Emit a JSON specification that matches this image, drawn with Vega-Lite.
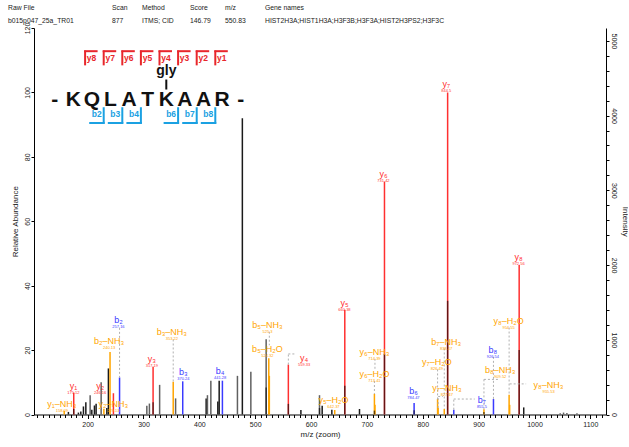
{
 "$schema": "https://vega.github.io/schema/vega-lite/v6.json",
 "width": 572,
 "height": 386.5,
 "padding": {"left": 8, "top": 5, "right": 0, "bottom": 4},
 "config": {
  "view": {"stroke": null},
  "font": "Liberation Sans",
  "axis": {"grid": false, "domainColor": "#000", "tickColor": "#000", "labelColor": "#222", "titleColor": "#222", "labelFont": "Liberation Sans", "titleFont": "Liberation Sans", "titleFontWeight": "normal"}
 },
 "datasets": {
  "peaks": [
   {"mz":158.09,"rel":1.2,"kind":"loss"},
   {"mz":165.6,"rel":0.8,"kind":"black"},
   {"mz":175.12,"rel":6.8,"kind":"y"},
   {"mz":183.5,"rel":0.6,"kind":"black"},
   {"mz":187.8,"rel":0.9,"kind":"black"},
   {"mz":192.5,"rel":2.5,"kind":"black"},
   {"mz":196.8,"rel":3.8,"kind":"black"},
   {"mz":204.5,"rel":6.0,"kind":"gray"},
   {"mz":207.5,"rel":1.5,"kind":"black"},
   {"mz":212.2,"rel":2.8,"kind":"black"},
   {"mz":215.2,"rel":3.3,"kind":"black"},
   {"mz":224.2,"rel":10.0,"kind":"gray"},
   {"mz":229.13,"rel":1.8,"kind":"loss"},
   {"mz":234.4,"rel":2.0,"kind":"black"},
   {"mz":237.2,"rel":14.3,"kind":"black"},
   {"mz":240.13,"rel":19.4,"kind":"loss"},
   {"mz":246.16,"rel":6.6,"kind":"y"},
   {"mz":257.16,"rel":11.5,"kind":"b"},
   {"mz":306.0,"rel":2.7,"kind":"gray"},
   {"mz":310.6,"rel":3.4,"kind":"gray"},
   {"mz":317.19,"rel":14.8,"kind":"y"},
   {"mz":328.9,"rel":9.2,"kind":"gray"},
   {"mz":353.22,"rel":10.2,"kind":"loss"},
   {"mz":357.5,"rel":5.0,"kind":"gray"},
   {"mz":370.24,"rel":10.3,"kind":"b"},
   {"mz":412.2,"rel":5.0,"kind":"black"},
   {"mz":414.5,"rel":6.0,"kind":"gray"},
   {"mz":420.6,"rel":10.5,"kind":"gray"},
   {"mz":433.1,"rel":4.0,"kind":"black"},
   {"mz":435.5,"rel":10.5,"kind":"black"},
   {"mz":441.28,"rel":10.5,"kind":"b"},
   {"mz":468.2,"rel":12.0,"kind":"gray"},
   {"mz":477.0,"rel":92.0,"kind":"black"},
   {"mz":492.2,"rel":13.3,"kind":"gray"},
   {"mz":519.6,"rel":23.4,"kind":"gray"},
   {"mz":524.32,"rel":17.5,"kind":"loss"},
   {"mz":525.3,"rel":12.0,"kind":"loss"},
   {"mz":559.33,"rel":15.5,"kind":"y"},
   {"mz":581.8,"rel":1.4,"kind":"black"},
   {"mz":615.1,"rel":6.0,"kind":"gray"},
   {"mz":619.9,"rel":2.7,"kind":"black"},
   {"mz":637.2,"rel":1.5,"kind":"black"},
   {"mz":642.37,"rel":1.4,"kind":"loss"},
   {"mz":660.38,"rel":32.5,"kind":"y"},
   {"mz":686.7,"rel":1.7,"kind":"black"},
   {"mz":713.41,"rel":6.4,"kind":"loss"},
   {"mz":714.39,"rel":3.0,"kind":"loss"},
   {"mz":731.42,"rel":72.3,"kind":"y"},
   {"mz":784.47,"rel":3.6,"kind":"b"},
   {"mz":826.49,"rel":4.8,"kind":"loss"},
   {"mz":827.47,"rel":2.0,"kind":"loss"},
   {"mz":838.47,"rel":1.7,"kind":"loss"},
   {"mz":844.5,"rel":100,"kind":"y"},
   {"mz":855.5,"rel":1.5,"kind":"b"},
   {"mz":909.51,"rel":1.6,"kind":"loss"},
   {"mz":926.54,"rel":4.8,"kind":"b"},
   {"mz":954.55,"rel":6.1,"kind":"loss"},
   {"mz":955.53,"rel":3.0,"kind":"loss"},
   {"mz":972.56,"rel":46.4,"kind":"y"},
   {"mz":980.7,"rel":2.2,"kind":"black"},
   {"mz":1046,"rel":0.4,"kind":"gray"},
   {"mz":1052,"rel":0.6,"kind":"gray"},
   {"mz":1058,"rel":0.5,"kind":"gray"},
   {"mz":1076,"rel":0.4,"kind":"gray"}
  ],
  "overlays": [
   {"mz":175.12,"rel":1.7},{"mz":317.19,"rel":3.8},{"mz":519.6,"rel":8.4},{"mz":559.33,"rel":3.3},
   {"mz":615.1,"rel":2.0},{"mz":660.38,"rel":8.9},{"mz":713.41,"rel":1.2},{"mz":731.42,"rel":18.8},
   {"mz":784.47,"rel":1.3},{"mz":844.5,"rel":35.3},{"mz":909.51,"rel":0.8},{"mz":972.56,"rel":20.0}
  ],
  "labels": [
   {"name":"y₁–NH₃","mzt":"158.09","kind":"loss","lx":153.8,"ly":2.7},
   {"name":"y₁","mzt":"175.12","kind":"y","lx":174.6,"ly":8.3},
   {"name":"y₂","mzt":"246.16","kind":"y","lx":222.4,"ly":8.3},
   {"name":"y₂–NH₃","mzt":"229.13","kind":"loss","lx":246.2,"ly":2.7},
   {"name":"b₂–NH₃","mzt":"240.13","kind":"loss","lx":238.5,"ly":22.4},
   {"name":"b₂","mzt":"257.16","kind":"b","lx":255.2,"ly":28.8},
   {"name":"y₃","mzt":"317.19","kind":"y","lx":315.0,"ly":16.7},
   {"name":"b₃–NH₃","mzt":"353.22","kind":"loss","lx":350.8,"ly":25.0},
   {"name":"b₃","mzt":"370.24","kind":"b","lx":371.5,"ly":12.6},
   {"name":"b₄","mzt":"441.28","kind":"b","lx":437.2,"ly":13.1},
   {"name":"b₅–NH₃","mzt":"525.3","kind":"loss","lx":521.9,"ly":27.4},
   {"name":"b₅–H₂O","mzt":"524.32","kind":"loss","lx":521.9,"ly":19.8},
   {"name":"y₄","mzt":"559.33","kind":"y","lx":587.7,"ly":17.2},
   {"name":"y₅–H₂O","mzt":"642.37","kind":"loss","lx":640.1,"ly":4.0},
   {"name":"y₅","mzt":"660.38","kind":"y","lx":659.8,"ly":34.3},
   {"name":"y₆–NH₃","mzt":"714.39","kind":"loss","lx":713.5,"ly":19.0},
   {"name":"y₆–H₂O","mzt":"713.41","kind":"loss","lx":713.5,"ly":12.0},
   {"name":"y₆","mzt":"731.42","kind":"y","lx":729.6,"ly":74.2},
   {"name":"b₆","mzt":"784.47","kind":"b","lx":783.3,"ly":6.9},
   {"name":"y₇–H₂O","mzt":"826.49","kind":"loss","lx":825.2,"ly":15.7},
   {"name":"y₇–NH₃","mzt":"827.47","kind":"loss","lx":843.2,"ly":7.8},
   {"name":"b₇–NH₃","mzt":"838.47","kind":"loss","lx":841.9,"ly":22.1},
   {"name":"y₇","mzt":"844.5","kind":"y","lx":841.9,"ly":102.3},
   {"name":"b₇","mzt":"855.5","kind":"b","lx":905.8,"ly":4.0},
   {"name":"b₈–NH₃","mzt":"909.52","kind":"loss","lx":938.6,"ly":13.3},
   {"name":"b₈","mzt":"926.54","kind":"b","lx":925.6,"ly":19.5},
   {"name":"y₈–H₂O","mzt":"954.55","kind":"loss","lx":953.5,"ly":28.6},
   {"name":"y₈–NH₃","mzt":"955.53","kind":"loss","lx":1025.1,"ly":8.8},
   {"name":"y₈","mzt":"972.56","kind":"y","lx":971.4,"ly":48.5}
  ],
  "leaders": [
   {"mz":257.16,"rel":26.9,"mz2":257.16,"rel2":11.5},
   {"mz":353.22,"rel":23.3,"mz2":353.22,"rel2":10.2},
   {"mz":525.3,"rel":25.7,"mz2":525.3,"rel2":21.5},
   {"mz":559.33,"rel":15.5,"mz2":559.33,"rel2":18.8},
   {"mz":559.33,"rel":18.8,"mz2":572,"rel2":18.8},
   {"mz":714.39,"rel":17.3,"mz2":714.39,"rel2":13.6},
   {"mz":713.41,"rel":10.4,"mz2":713.41,"rel2":6.4},
   {"mz":826.49,"rel":14.0,"mz2":826.49,"rel2":4.8},
   {"mz":827.47,"rel":2.0,"mz2":827.47,"rel2":5.6},
   {"mz":827.47,"rel":5.6,"mz2":836,"rel2":5.6},
   {"mz":838.47,"rel":20.5,"mz2":838.47,"rel2":1.7},
   {"mz":855.5,"rel":1.5,"mz2":855.5,"rel2":4.8},
   {"mz":855.5,"rel":4.8,"mz2":893,"rel2":4.8},
   {"mz":909.51,"rel":1.6,"mz2":909.51,"rel2":10.9},
   {"mz":909.51,"rel":10.9,"mz2":938,"rel2":10.9},
   {"mz":926.54,"rel":17.9,"mz2":926.54,"rel2":4.8},
   {"mz":954.55,"rel":27.0,"mz2":954.55,"rel2":6.1},
   {"mz":955.53,"rel":9.5,"mz2":985,"rel2":9.5}
  ],
  "residues": [
   {"pos":0,"aa":"-"},{"pos":1,"aa":"K"},{"pos":2,"aa":"Q"},{"pos":3,"aa":"L"},{"pos":4,"aa":"A"},{"pos":5,"aa":"T"},
   {"pos":6,"aa":"K"},{"pos":7,"aa":"A"},{"pos":8,"aa":"A"},{"pos":9,"aa":"R"},{"pos":10,"aa":"-"}
  ],
  "mods": [{"pos":6,"mod":"gly"}],
  "ybr": [
   {"ion":"y8","site":1.5},{"ion":"y7","site":2.5},{"ion":"y6","site":3.5},{"ion":"y5","site":4.5},
   {"ion":"y4","site":5.5},{"ion":"y3","site":6.5},{"ion":"y2","site":7.5},{"ion":"y1","site":8.5}
  ],
  "bbr": [
   {"ion":"b2","site":2.5},{"ion":"b3","site":3.5},{"ion":"b4","site":4.5},
   {"ion":"b6","site":6.5},{"ion":"b7","site":7.5},{"ion":"b8","site":8.5}
  ],
  "header": [
   {"column":1,"name":"Raw File","value":"b015p047_25a_TR01"},
   {"column":2,"name":"Scan","value":"877"},
   {"column":3,"name":"Method","value":"ITMS; CID"},
   {"column":4,"name":"Score","value":"146.79"},
   {"column":5,"name":"m/z","value":"550.83"},
   {"column":6,"name":"Gene names","value":"HIST2H3A;HIST1H3A;H3F3B;H3F3A;HIST2H3PS2;H3F3C"}
  ]
 },
 "resolve": {"scale": {"x": "independent", "y": "independent"}},
 "layer": [
  {
   "layer": [
    {
     "data": {"name": "peaks"},
     "mark": {"type": "rule", "strokeWidth": 1.5},
     "encoding": {
      "x": {"field": "mz", "type": "quantitative",
        "scale": {"domain": [104, 1128], "nice": false, "zero": false},
        "axis": {"values": [200,300,400,500,600,700,800,900,1000,1100],
          "format": "d", "tickSize": 4, "labelFontSize": 7, "labelPadding": 2, "labelOverlap": false, "labelFlush": false,
          "title": "m/z (zoom)", "titleFontSize": 8, "titlePadding": 3}},
      "y": {"field": "rel", "type": "quantitative",
        "scale": {"domain": [0, 120], "nice": false},
        "axis": {"values": [0,10,20,30,40,50,60,70,80,90,100,110,120],
          "labelExpr": "datum.value % 20 === 0 ? datum.label : ''",
          "labelAngle": -90, "tickSize": 3, "labelFontSize": 7, "labelPadding": 1, "labelOverlap": false, "labelFlush": false,
          "title": "Relative Abundance", "titleFontSize": 8, "titlePadding": 4}},
      "y2": {"datum": 0},
      "color": {"field": "kind", "type": "nominal",
        "scale": {"domain": ["y","b","loss","gray","black"], "range": ["#ff3030","#3a3aff","#ffa500","#606060","#1a1a1a"]},
        "legend": null}
     }
    },
    {
     "data": {"name": "overlays"},
     "mark": {"type": "rule", "strokeWidth": 1.5, "color": "#000", "opacity": 0.6},
     "encoding": {
      "x": {"field": "mz", "type": "quantitative"},
      "y": {"field": "rel", "type": "quantitative"},
      "y2": {"datum": 0}
     }
    },
    {
     "data": {"name": "leaders"},
     "mark": {"type": "rule", "strokeWidth": 1, "color": "#b0b0b0", "strokeDash": [2, 2]},
     "encoding": {
      "x": {"field": "mz", "type": "quantitative"},
      "x2": {"field": "mz2"},
      "y": {"field": "rel", "type": "quantitative"},
      "y2": {"field": "rel2"}
     }
    },
    {
     "data": {"name": "labels"},
     "mark": {"type": "text", "fontSize": 9, "align": "center", "baseline": "middle", "dy": -1.5},
     "encoding": {
      "x": {"field": "lx", "type": "quantitative"},
      "y": {"field": "ly", "type": "quantitative"},
      "text": {"field": "name"},
      "color": {"field": "kind", "type": "nominal", "legend": null}
     }
    },
    {
     "data": {"name": "labels"},
     "mark": {"type": "text", "fontSize": 4, "align": "center", "baseline": "middle", "dy": 5.5},
     "encoding": {
      "x": {"field": "lx", "type": "quantitative"},
      "y": {"field": "ly", "type": "quantitative"},
      "text": {"field": "mzt"},
      "color": {"field": "kind", "type": "nominal", "legend": null}
     }
    }
   ]
  },
  {
   "data": {"values": [{}]},
   "mark": {"type": "rule", "opacity": 0},
   "encoding": {
    "x": {"datum": 104, "type": "quantitative",
      "scale": {"domain": [104, 1128], "nice": false, "zero": false},
      "axis": {"orient": "bottom", "values": [110,120,130,140,150,160,170,180,190,210,220,230,240,250,260,270,280,290,310,320,330,340,350,360,370,380,390,410,420,430,440,450,460,470,480,490,510,520,530,540,550,560,570,580,590,610,620,630,640,650,660,670,680,690,710,720,730,740,750,760,770,780,790,810,820,830,840,850,860,870,880,890,910,920,930,940,950,960,970,980,990,1010,1020,1030,1040,1050,1060,1070,1080,1090,1110,1120],
        "labels": false, "domain": false, "tickSize": 3, "title": null}},
    "y": {"datum": 0, "type": "quantitative",
      "scale": {"domain": [0, 5172], "nice": false},
      "axis": {"orient": "right", "values": [0,200,400,600,800,1000,1200,1400,1600,1800,2000,2200,2400,2600,2800,3000,3200,3400,3600,3800,4000,4200,4400,4600,4800,5000],
        "format": "d", "labelExpr": "datum.value % 1000 === 0 ? datum.label : ''",
        "labelAngle": 90, "tickSize": 3, "labelFontSize": 7, "labelPadding": 1, "labelOverlap": false, "labelFlush": false,
        "title": "Intensity", "titleFontSize": 8, "titlePadding": 3}}
   }
  },
  {
   "layer": [
    {
     "data": {"name": "residues"},
     "mark": {"type": "text", "fontSize": 21, "fontWeight": "bold", "align": "center", "baseline": "middle", "color": "#111"},
     "encoding": {
      "x": {"field": "pos", "type": "quantitative", "scale": {"domain": [-1.113, 29.64], "nice": false, "zero": false}, "axis": null},
      "y": {"datum": 97.7, "type": "quantitative", "scale": {"domain": [0, 120], "nice": false}, "axis": null},
      "text": {"field": "aa"}
     }
    },
    {
     "data": {"name": "mods"},
     "mark": {"type": "text", "fontSize": 14, "fontWeight": "bold", "align": "center", "baseline": "middle", "color": "#111"},
     "encoding": {
      "x": {"field": "pos", "type": "quantitative"},
      "y": {"datum": 106.6, "type": "quantitative"},
      "text": {"field": "mod"}
     }
    },
    {
     "data": {"name": "mods"},
     "mark": {"type": "rule", "strokeWidth": 2, "color": "#111"},
     "encoding": {
      "x": {"field": "pos", "type": "quantitative"},
      "y": {"datum": 104.0, "type": "quantitative"},
      "y2": {"datum": 100.9}
     }
    },
    {
     "data": {"name": "ybr"},
     "mark": {"type": "rule", "strokeWidth": 2, "color": "#e8262c", "xOffset": 2.5},
     "encoding": {
      "x": {"field": "site", "type": "quantitative"},
      "y": {"datum": 113.0, "type": "quantitative"},
      "y2": {"datum": 108.4}
     }
    },
    {
     "data": {"name": "ybr"},
     "mark": {"type": "rule", "strokeWidth": 2, "color": "#e8262c", "xOffset": 1.5, "x2Offset": 15},
     "encoding": {
      "x": {"field": "site", "type": "quantitative"},
      "x2": {"field": "site"},
      "y": {"datum": 112.8, "type": "quantitative"}
     }
    },
    {
     "data": {"name": "ybr"},
     "mark": {"type": "text", "fontSize": 8.5, "fontWeight": "bold", "align": "center", "baseline": "middle", "color": "#e8262c", "dx": 9},
     "encoding": {
      "x": {"field": "site", "type": "quantitative"},
      "y": {"datum": 110.6, "type": "quantitative"},
      "text": {"field": "ion"}
     }
    },
    {
     "data": {"name": "bbr"},
     "mark": {"type": "rule", "strokeWidth": 2, "color": "#1ba1e2", "xOffset": 2.5},
     "encoding": {
      "x": {"field": "site", "type": "quantitative"},
      "y": {"datum": 95.4, "type": "quantitative"},
      "y2": {"datum": 90.3}
     }
    },
    {
     "data": {"name": "bbr"},
     "mark": {"type": "rule", "strokeWidth": 2, "color": "#1ba1e2", "xOffset": -12, "x2Offset": 3.5},
     "encoding": {
      "x": {"field": "site", "type": "quantitative"},
      "x2": {"field": "site"},
      "y": {"datum": 90.5, "type": "quantitative"}
     }
    },
    {
     "data": {"name": "bbr"},
     "mark": {"type": "text", "fontSize": 8.5, "fontWeight": "bold", "align": "center", "baseline": "middle", "color": "#1ba1e2", "dx": -4.5},
     "encoding": {
      "x": {"field": "site", "type": "quantitative"},
      "y": {"datum": 93.3, "type": "quantitative"},
      "text": {"field": "ion"}
     }
    }
   ]
  },
  {
   "layer": [
    {
     "data": {"name": "header"},
     "mark": {"type": "text", "fontSize": 6.8, "align": "left", "baseline": "middle", "color": "#222"},
     "encoding": {
      "x": {"field": "column", "type": "quantitative", "scale": {"domain": [1,2,3,4,5,6], "range": [-26,78,108,156,191,231]}, "axis": null},
      "y": {"datum": 1, "type": "quantitative", "scale": {"domain": [0, 1], "range": [-7, -20]}, "axis": null},
      "text": {"field": "name"}
     }
    },
    {
     "data": {"name": "header"},
     "mark": {"type": "text", "fontSize": 6.8, "align": "left", "baseline": "middle", "color": "#222"},
     "encoding": {
      "x": {"field": "column", "type": "quantitative"},
      "y": {"datum": 0, "type": "quantitative"},
      "text": {"field": "value"}
     }
    }
   ]
  }
 ]
}
